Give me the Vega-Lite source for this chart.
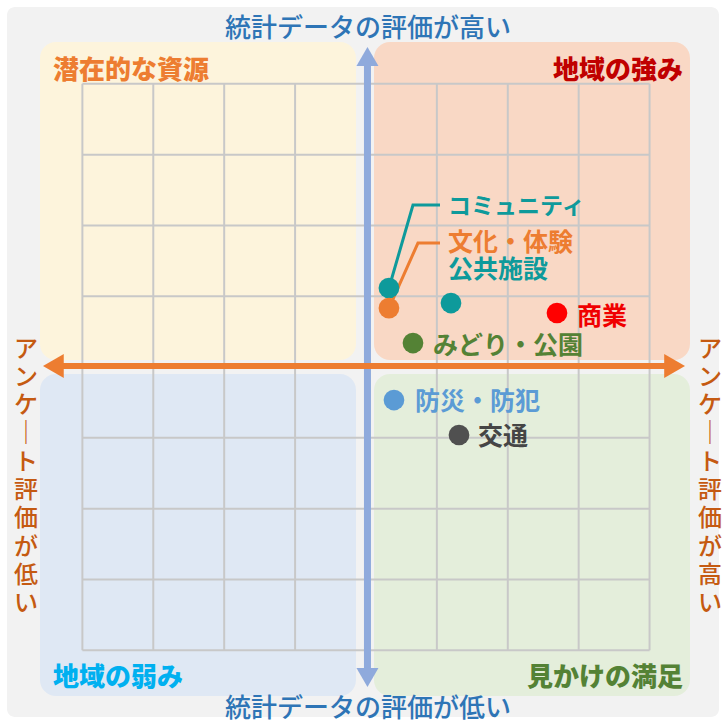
{
  "$schema": "https://vega.github.io/schema/vega-lite/v6.json",
  "width": 726,
  "height": 724,
  "padding": 0,
  "autosize": {"type": "none"},
  "background": "#ffffff",
  "config": {"view": {"stroke": null}},
  "encoding": {
    "x": {"field": "u", "type": "quantitative", "scale": {"domain": [-5.162, 5.078], "nice": false, "zero": false}, "axis": null},
    "y": {"field": "v", "type": "quantitative", "scale": {"domain": [-5.042, 5.184], "nice": false, "zero": false}, "axis": null}
  },
  "resolve": {"scale": {"color": "independent", "shape": "independent"}},
  "layer": [
    {
      "data": {"values": [{"u": -5.063, "u2": 4.979, "v": 5.085, "v2": -4.944}]},
      "mark": {"type": "rect", "fill": "#f2f2f2", "cornerRadius": 8},
      "encoding": {"x2": {"field": "u2"}, "y2": {"field": "v2"}}
    },
    {
      "data": {"values": [
        {"q": "TL", "u": -4.598, "u2": -0.141, "v": 4.59, "v2": 0.099},
        {"q": "TR", "u": 0.113, "u2": 4.57, "v": 4.59, "v2": 0.099},
        {"q": "BL", "u": -4.598, "u2": -0.141, "v": -0.099, "v2": -4.647},
        {"q": "BR", "u": 0.113, "u2": 4.57, "v": -0.099, "v2": -4.647}
      ]},
      "mark": {"type": "rect", "cornerRadius": 16},
      "encoding": {
        "x2": {"field": "u2"}, "y2": {"field": "v2"},
        "color": {"field": "q", "type": "nominal", "legend": null,
          "scale": {"domain": ["TL", "TR", "BL", "BR"], "range": ["#fdf4dc", "#f9d8c5", "#dfe8f4", "#e4eedb"]}}
      }
    },
    {
      "data": {"values": [
        {"u": -4, "u2": -4, "v": -4, "v2": 4},
        {"u": -3, "u2": -3, "v": -4, "v2": 4},
        {"u": -2, "u2": -2, "v": -4, "v2": 4},
        {"u": -1, "u2": -1, "v": -4, "v2": 4},
        {"u": 1, "u2": 1, "v": -4, "v2": 4},
        {"u": 2, "u2": 2, "v": -4, "v2": 4},
        {"u": 3, "u2": 3, "v": -4, "v2": 4},
        {"u": 4, "u2": 4, "v": -4, "v2": 4},
        {"u": -4, "u2": 4, "v": -4, "v2": -4},
        {"u": -4, "u2": 4, "v": -3, "v2": -3},
        {"u": -4, "u2": 4, "v": -2, "v2": -2},
        {"u": -4, "u2": 4, "v": -1, "v2": -1},
        {"u": -4, "u2": 4, "v": 1, "v2": 1},
        {"u": -4, "u2": 4, "v": 2, "v2": 2},
        {"u": -4, "u2": 4, "v": 3, "v2": 3},
        {"u": -4, "u2": 4, "v": 4, "v2": 4}
      ]},
      "mark": {"type": "rule", "color": "#c8c8c8", "strokeWidth": 2},
      "encoding": {"x2": {"field": "u2"}, "y2": {"field": "v2"}}
    },
    {
      "data": {"values": [{"u": 0.021, "u2": 0.021, "v": 4.3, "v2": -4.3}]},
      "mark": {"type": "rule", "color": "#8faadc", "strokeWidth": 7},
      "encoding": {"x2": {"field": "u2"}, "y2": {"field": "v2"}}
    },
    {
      "data": {"values": [{"dir": "up", "u": 0.021, "v": 4.386}, {"dir": "down", "u": 0.021, "v": -4.386}]},
      "mark": {"type": "point", "filled": true, "opacity": 1, "color": "#8faadc", "size": 484, "strokeWidth": 0},
      "encoding": {
        "shape": {"field": "dir", "type": "nominal", "legend": null,
          "scale": {"domain": ["up", "down"], "range": ["triangle-up", "triangle-down"]}}
      }
    },
    {
      "data": {"values": [{"u": -4.3, "u2": 4.28, "v": 0.014, "v2": 0.014}]},
      "mark": {"type": "rule", "color": "#ed7d31", "strokeWidth": 6},
      "encoding": {"x2": {"field": "u2"}, "y2": {"field": "v2"}}
    },
    {
      "data": {"values": [{"dir": "left", "u": -4.409, "v": 0.014}, {"dir": "right", "u": 4.353, "v": 0.014}]},
      "mark": {"type": "point", "filled": true, "opacity": 1, "color": "#ed7d31", "size": 576, "strokeWidth": 0},
      "encoding": {
        "shape": {"field": "dir", "type": "nominal", "legend": null,
          "scale": {"domain": ["left", "right"], "range": ["triangle-left", "triangle-right"]}}
      }
    },
    {
      "data": {"values": [
        {"name": "コミュニティ", "ord": 1, "u": 0.324, "v": 1.116},
        {"name": "コミュニティ", "ord": 2, "u": 0.663, "v": 2.288},
        {"name": "コミュニティ", "ord": 3, "u": 1.044, "v": 2.288},
        {"name": "文化・体験", "ord": 1, "u": 0.324, "v": 0.833},
        {"name": "文化・体験", "ord": 2, "u": 0.733, "v": 1.751},
        {"name": "文化・体験", "ord": 3, "u": 1.044, "v": 1.751}
      ]},
      "mark": {"type": "line", "strokeWidth": 3},
      "encoding": {
        "order": {"field": "ord", "type": "quantitative"},
        "color": {"field": "name", "type": "nominal", "legend": null,
          "scale": {"domain": ["コミュニティ", "文化・体験"], "range": ["#0e9a9b", "#ed7d31"]}}
      }
    },
    {
      "data": {"values": [
        {"name": "コミュニティ", "u": 0.324, "v": 1.116},
        {"name": "文化・体験", "u": 0.324, "v": 0.833},
        {"name": "公共施設", "u": 1.199, "v": 0.904},
        {"name": "商業", "u": 2.694, "v": 0.763},
        {"name": "みどり・公園", "u": 0.663, "v": 0.339},
        {"name": "防災・防犯", "u": 0.395, "v": -0.466},
        {"name": "交通", "u": 1.312, "v": -0.96}
      ]},
      "mark": {"type": "circle", "size": 430, "opacity": 1},
      "encoding": {
        "color": {"field": "name", "type": "nominal", "legend": null,
          "scale": {"domain": ["コミュニティ", "文化・体験", "公共施設", "商業", "みどり・公園", "防災・防犯", "交通"],
                    "range": ["#0e9a9b", "#ed7d31", "#0e9a9b", "#ff0000", "#548235", "#5b9bd5", "#505050"]}}
      }
    },
    {
      "data": {"values": [
        {"name": "文化・体験", "u": 1.157, "v": 1.751},
        {"name": "公共施設", "u": 1.157, "v": 1.37},
        {"name": "商業", "u": 2.976, "v": 0.706},
        {"name": "みどり・公園", "u": 0.945, "v": 0.297},
        {"name": "防災・防犯", "u": 0.691, "v": -0.494},
        {"name": "交通", "u": 1.58, "v": -0.989}
      ]},
      "mark": {"type": "text", "align": "left", "baseline": "middle", "font": "Noto Sans CJK JP", "fontSize": 25, "fontWeight": "bold"},
      "encoding": {
        "text": {"field": "name"},
        "color": {"field": "name", "type": "nominal", "legend": null,
          "scale": {"domain": ["文化・体験", "公共施設", "商業", "みどり・公園", "防災・防犯", "交通"],
                    "range": ["#ed7d31", "#0e9a9b", "#f00000", "#548235", "#5b9bd5", "#454545"]}}
      }
    },
    {
      "data": {"values": [{"name": "コミュニティ", "u": 1.157, "v": 2.26}]},
      "mark": {"type": "text", "align": "left", "baseline": "middle", "font": "Noto Sans CJK JP", "fontSize": 23, "fontWeight": "bold", "color": "#0e9a9b"},
      "encoding": {"text": {"field": "name"}}
    },
    {
      "data": {"values": [
        {"t": "潜在的な資源", "u": -4.415, "v": 4.188},
        {"t": "地域の弱み", "u": -4.415, "v": -4.393}
      ]},
      "mark": {"type": "text", "align": "left", "baseline": "middle", "font": "Noto Sans CJK JP", "fontSize": 26, "fontWeight": 900},
      "encoding": {
        "text": {"field": "t"},
        "color": {"field": "t", "type": "nominal", "legend": null,
          "scale": {"domain": ["潜在的な資源", "地域の弱み"], "range": ["#ed7d31", "#00b0f0"]}}
      }
    },
    {
      "data": {"values": [
        {"t": "地域の強み", "u": 4.471, "v": 4.188},
        {"t": "見かけの満足", "u": 4.471, "v": -4.393}
      ]},
      "mark": {"type": "text", "align": "right", "baseline": "middle", "font": "Noto Sans CJK JP", "fontSize": 26, "fontWeight": 900},
      "encoding": {
        "text": {"field": "t"},
        "color": {"field": "t", "type": "nominal", "legend": null,
          "scale": {"domain": ["地域の強み", "見かけの満足"], "range": ["#c00000", "#548235"]}}
      }
    },
    {
      "data": {"values": [
        {"t": "統計データの評価が高い", "u": 0.028, "v": 4.774},
        {"t": "統計データの評価が低い", "u": 0.028, "v": -4.83}
      ]},
      "mark": {"type": "text", "align": "center", "baseline": "middle", "font": "Noto Sans CJK JP", "fontSize": 26, "fontWeight": 500, "color": "#2e75b6"},
      "encoding": {"text": {"field": "t"}}
    },
    {
      "data": {"values": [
        {"t": "ア\nン\nケ\n｜\nト\n評\n価\nが\n低\nい", "u": -4.795, "v": 0.247},
        {"t": "ア\nン\nケ\n｜\nト\n評\n価\nが\n高\nい", "u": 4.852, "v": 0.247}
      ]},
      "mark": {"type": "text", "align": "center", "baseline": "middle", "lineBreak": "\n", "lineHeight": 28.3, "font": "Noto Sans CJK JP", "fontSize": 24, "fontWeight": 500, "color": "#c55a11"},
      "encoding": {"text": {"field": "t"}}
    }
  ]
}
